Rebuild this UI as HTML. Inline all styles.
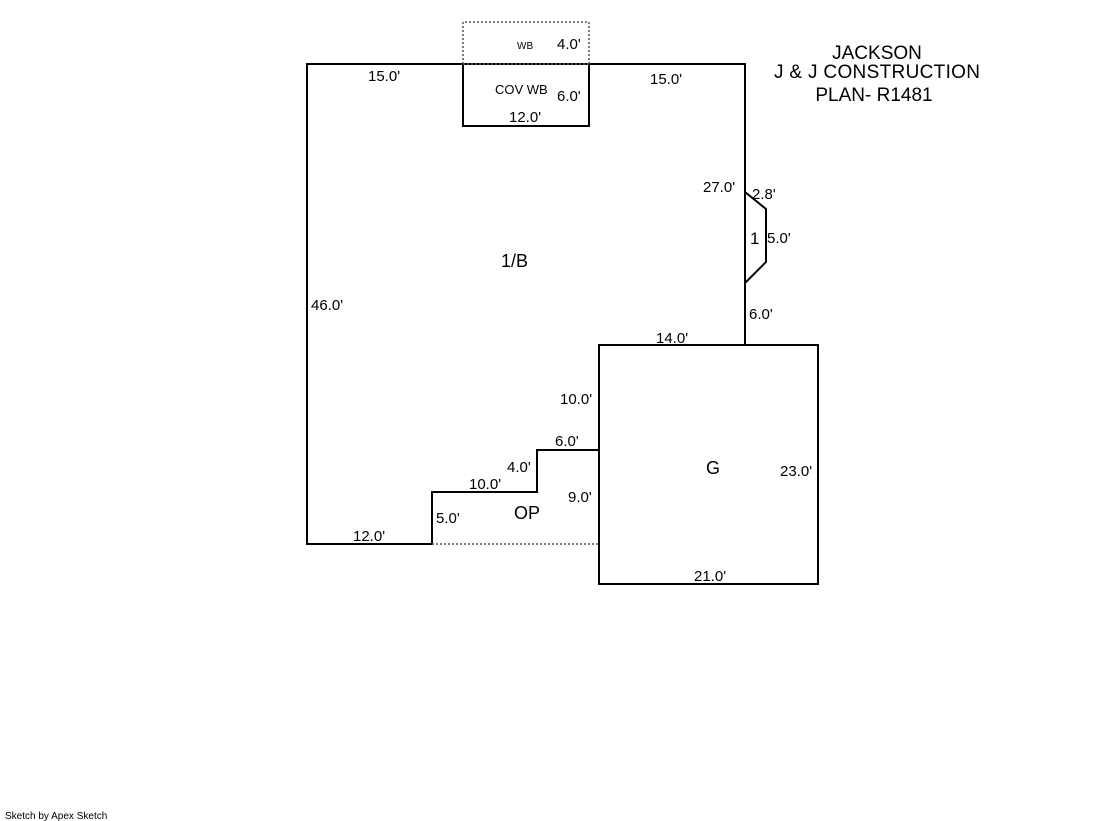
<!DOCTYPE html>
<html><head><style>
body{margin:0;background:#fff;}
svg{display:block;font-family:"Liberation Sans",sans-serif;}
text{font-size:15px;fill:#000;}
</style></head><body>
<svg width="1119" height="821" viewBox="0 0 1119 821">
<g fill="none" stroke="#000" stroke-width="2">
<polyline points="463,64 307,64 307,544 432,544 432,492 537,492 537,450 599,450"/>
<polyline points="589,64 745,64 745,345"/>
<polyline points="745,192 766,209 766,262 745,283"/>
<rect x="599" y="345" width="219" height="239"/>
<rect x="463" y="64" width="126" height="62"/>
</g>
<g fill="none" stroke="#555" stroke-width="1.5" stroke-dasharray="2,2">
<polyline points="463,64 463,22 589,22 589,64"/>
<line x1="463" y1="64" x2="589" y2="64"/>
<line x1="432" y1="544" x2="599" y2="544"/>
</g>
<text x="517" y="49" style="font-size:10px">WB</text>
<text x="557" y="49">4.0'</text>
<text x="495" y="94" style="font-size:13px">COV WB</text>
<text x="557" y="101">6.0'</text>
<text x="509" y="122">12.0'</text>
<text x="368" y="81">15.0'</text>
<text x="650" y="84">15.0'</text>
<text x="703" y="192">27.0'</text>
<text x="752" y="199">2.8'</text>
<text x="750" y="244" style="font-size:17px">1</text>
<text x="767" y="243">5.0'</text>
<text x="749" y="319">6.0'</text>
<text x="501" y="267" style="font-size:18px">1/B</text>
<text x="311" y="310">46.0'</text>
<text x="656" y="343">14.0'</text>
<text x="560" y="404">10.0'</text>
<text x="555" y="446">6.0'</text>
<text x="507" y="472">4.0'</text>
<text x="469" y="489">10.0'</text>
<text x="568" y="502">9.0'</text>
<text x="436" y="523">5.0'</text>
<text x="514" y="519" style="font-size:18px">OP</text>
<text x="353" y="541">12.0'</text>
<text x="706" y="474" style="font-size:18px">G</text>
<text x="780" y="476">23.0'</text>
<text x="694" y="581">21.0'</text>
<text x="877" y="59" text-anchor="middle" style="font-size:19px">JACKSON</text>
<text x="877" y="78" text-anchor="middle" style="font-size:19px" textLength="206">J &amp; J CONSTRUCTION</text>
<text x="874" y="101" text-anchor="middle" style="font-size:19px">PLAN- R1481</text>
<text x="5" y="819" style="font-size:10px">Sketch by Apex Sketch</text>
</svg>
</body></html>
